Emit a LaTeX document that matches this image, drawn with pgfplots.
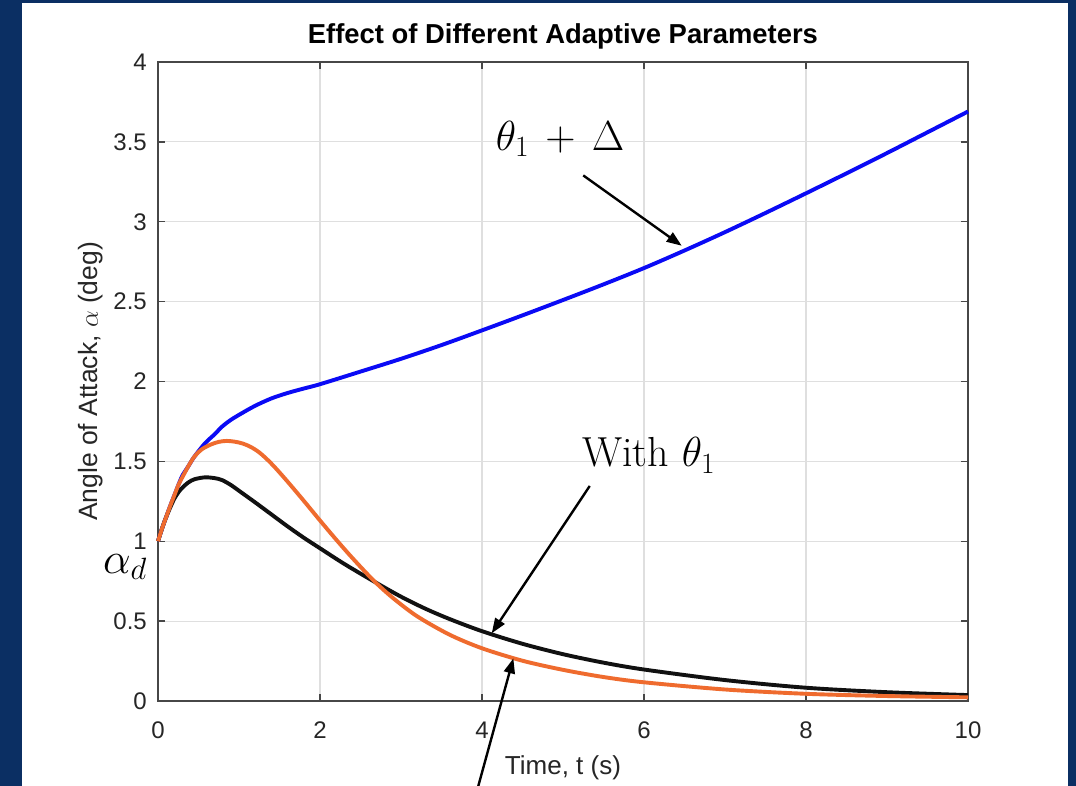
\RequirePackage{fix-cm}
\documentclass[border=0pt]{standalone}
\usepackage{fontspec}
\usepackage{pgfplots}
\pgfplotsset{compat=1.18}
\usetikzlibrary{arrows.meta}
\newfontfamily\arial{Liberation Sans}
\definecolor{slidenavy}{HTML}{0B2F63}
\definecolor{axgray}{HTML}{262626}
\definecolor{gridgray}{HTML}{DFDFDF}
\definecolor{curveblue}{HTML}{0A0AF5}
\definecolor{curveorange}{HTML}{EF6B2E}
\definecolor{curveblack}{HTML}{111111}

% theta_1 + Delta
\pgfplotstableread{
t v
0 1.00
0.05 1.08
0.1 1.15
0.15 1.22
0.2 1.285
0.25 1.35
0.3 1.41
0.375 1.47
0.45 1.53
0.58 1.613
0.7 1.67
0.79 1.717
0.9 1.76
1.03 1.80
1.2 1.848
1.4 1.894
1.6 1.928
1.8 1.956
2.0 1.983
2.5 2.062
3.0 2.142
3.5 2.228
4.0 2.32
4.5 2.414
5.0 2.51
5.5 2.608
6.0 2.71
6.5 2.82
7.0 2.935
7.5 3.055
8.0 3.178
8.5 3.303
9.0 3.43
9.5 3.56
10 3.69
}\thetadelta

% adaptive parameters (orange)
\pgfplotstableread{
t v
0 1.00
0.05 1.08
0.1 1.15
0.15 1.22
0.2 1.285
0.25 1.35
0.3 1.40
0.375 1.47
0.45 1.53
0.54 1.575
0.65 1.605
0.75 1.622
0.85 1.628
0.95 1.623
1.05 1.611
1.15 1.589
1.25 1.556
1.35 1.511
1.45 1.459
1.6 1.373
1.8 1.253
2.0 1.13
2.2 1.01
2.4 0.895
2.66 0.755
2.9 0.645
3.2 0.53
3.6 0.415
4.0 0.33
4.5 0.252
5.0 0.195
5.5 0.15
6.0 0.117
7.0 0.072
8.0 0.045
9.0 0.031
10 0.023
}\orangecurve

% with theta_1
\pgfplotstableread{
t v
0 1.00
0.05 1.08
0.1 1.15
0.15 1.21
0.2 1.265
0.25 1.305
0.3 1.335
0.375 1.368
0.45 1.388
0.58 1.40
0.7 1.395
0.79 1.383
0.9 1.352
1.03 1.305
1.2 1.243
1.4 1.168
1.6 1.093
1.8 1.022
2.0 0.956
2.3 0.858
2.66 0.75
3.0 0.653
3.3 0.578
3.6 0.513
4.0 0.437
4.5 0.358
5.0 0.293
5.5 0.24
6.0 0.197
7.0 0.131
8.0 0.083
9.0 0.055
10 0.037
}\thetaone

\begin{document}
\begin{tikzpicture}
\useasboundingbox (0,0) rectangle (1076pt,786pt);
\fill[slidenavy] (0,0) rectangle (1076pt,786pt);
\fill[white] (22pt,0) rectangle (1068pt,783pt);
\begin{axis}[
  at={(158pt,85pt)}, anchor=south west,
  scale only axis, width=810pt, height=639pt,
  xmin=0, xmax=10, ymin=0, ymax=4,
  xtick={0,2,...,10}, ytick={0,0.5,...,4},
  clip=false,
  grid=major,
  major grid style={color=gridgray, line width=1.2pt},
  axis line style={color=axgray!85, line width=1.3pt},
  tick style={color=axgray!85, line width=1.3pt},
  tick align=inside, major tick length=7pt,
  xtick pos=both, ytick pos=both,
  /pgf/number format/assume math mode=true,
  ticklabel style={font=\arial\fontsize{24}{28}\selectfont, text=axgray, inner sep=0pt},
  xticklabel shift=21pt, yticklabel shift=11pt,
  title={Effect of Different Adaptive Parameters},
  title style={font=\arial\bfseries\fontsize{27.4}{32}\selectfont, text=black,
    at={(axis description cs:0.5,1)}, anchor=base, yshift=12pt, inner sep=0pt},
  xlabel={Time, t (s)},
  xlabel style={font=\arial\fontsize{26}{30}\selectfont, text=axgray,
    at={(axis description cs:0.5,0)}, anchor=base, yshift=-74pt, inner sep=0pt},
  ylabel={Angle of Attack, $\alpha$ (deg)},
  ylabel style={font=\arial\fontsize{26.5}{31}\selectfont, text=axgray,
    at={(axis description cs:-0.0741,0.5)}, anchor=base, inner sep=0pt},
]
\addplot[curveblue, line width=3.9pt, smooth, tension=0.5] table[x=t, y=v] {\thetadelta};
\addplot[curveblack, line width=3.9pt, smooth, tension=0.5] table[x=t, y=v] {\thetaone};
\addplot[curveorange, line width=3.9pt, smooth, tension=0.5] table[x=t, y=v] {\orangecurve};

% annotations
\draw[line width=2.4pt, -{Triangle[length=15pt,width=11pt]}]
  (axis cs:5.25,3.29) -- (axis cs:6.465,2.85);
\draw[line width=2.4pt, -{Triangle[length=15pt,width=11pt]}]
  (axis cs:5.33,1.346) -- (axis cs:4.12,0.424);
\draw[line width=2.4pt, -{Triangle[length=15pt,width=11pt]}]
  (axis cs:3.95,-0.54) -- (axis cs:4.387,0.267);
\node[anchor=base west, inner sep=0pt, font=\fontsize{42}{46}\selectfont]
  at (axis cs:4.17,3.449) {$\theta_1\,+\,\Delta$};
\node[anchor=base west, inner sep=0pt, font=\fontsize{42}{46}\selectfont]
  at (axis cs:5.235,1.465) {With $\theta_1$};
\node[anchor=base west, inner sep=0pt, font=\fontsize{44}{48}\selectfont]
  at (axis cs:-0.679,0.801) {$\alpha_d$};
\end{axis}
\end{tikzpicture}
\end{document}
